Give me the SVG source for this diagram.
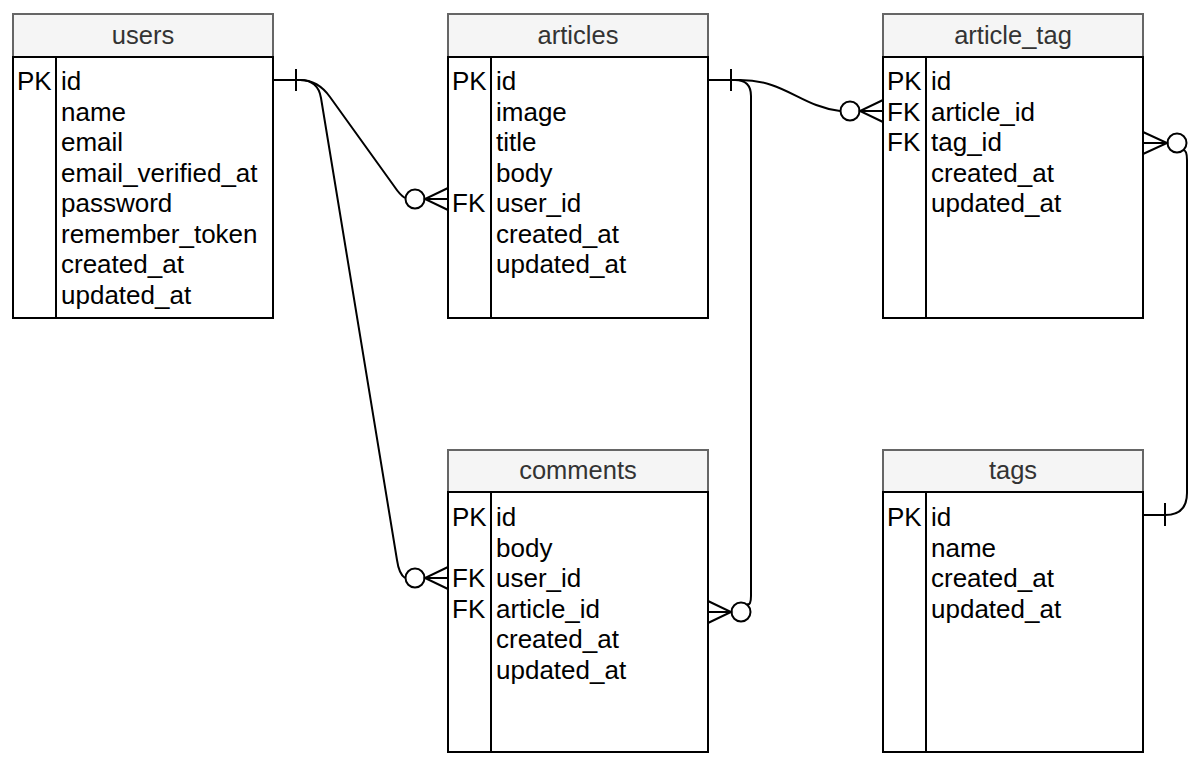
<svg xmlns="http://www.w3.org/2000/svg" width="1202" height="766" viewBox="0 0 1202 766">
  <style>
    .hdr { fill: #f5f5f5; stroke: #666666; stroke-width: 2; }
    .body { fill: #ffffff; stroke: #000000; stroke-width: 2; }
    .div { stroke: #000000; stroke-width: 2; }
    .title { font-family: "Liberation Sans", Arial, sans-serif; font-size: 25.5px; fill: #333333; text-anchor: middle; }
    .fld { font-family: "Liberation Sans", Arial, sans-serif; font-size: 26px; fill: #000000; }
    .edge { fill: none; stroke: #000000; stroke-width: 2; }
    .ring { fill: #ffffff; stroke: #000000; stroke-width: 2; }
  </style>

  <!-- relationships -->
  <g id="connectors">
    <!-- users.id -> articles.user_id (one to zero-or-many) -->
    <path class="edge" d="M273,80 L300,80 Q318,80 330,97 L394,186 Q400,195 405,198"/>
    <line class="edge" x1="296" y1="69" x2="296" y2="91"/>
    <circle class="ring" cx="415" cy="199" r="9.5"/>
    <path class="edge" d="M448,188 L425,199 L448,210 M425,199 L448,199"/>

    <!-- users.id -> comments.user_id -->
    <path class="edge" d="M300,80 Q318,80 321,98 L397,560 Q399,574 405,578"/>
    <circle class="ring" cx="415" cy="578" r="9.5"/>
    <path class="edge" d="M448,567 L425,578 L448,589 M425,578 L448,578"/>

    <!-- articles.id -> article_tag.article_id -->
    <path class="edge" d="M708,80 L740,80 C785,80 800,106 840,111"/>
    <line class="edge" x1="731" y1="69" x2="731" y2="91"/>
    <circle class="ring" cx="850" cy="111" r="9.5"/>
    <path class="edge" d="M883,100 L860,111 L883,122 M860,111 L883,111"/>

    <!-- articles.id -> comments.article_id -->
    <path class="edge" d="M735,80 Q751,80 751,96 L751,596 Q751,606 747,604"/>
    <circle class="ring" cx="741" cy="612" r="9.5"/>
    <path class="edge" d="M708,601 L731,612 L708,623 M731,612 L708,612"/>

    <!-- tags.id -> article_tag.tag_id -->
    <path class="edge" d="M1143,515 L1165,515 Q1187,515 1187,493 L1187,160 Q1187,150 1183,150"/>
    <line class="edge" x1="1165" y1="503" x2="1165" y2="526"/>
    <circle class="ring" cx="1177" cy="143" r="9.5"/>
    <path class="edge" d="M1143,132 L1167,143 L1143,154 M1167,143 L1143,143"/>
  </g>

  <g id="users">
    <rect class="hdr" x="13" y="14" width="260" height="43"/>
    <rect class="body" x="13" y="57" width="260" height="261"/>
    <line class="div" x1="56" y1="57" x2="56" y2="318"/>
    <text class="title" x="143" y="44">users</text>
    <text class="fld" x="17" y="90">PK</text>
    <text class="fld" x="61" y="90">id</text>
    <text class="fld" x="61" y="121">name</text>
    <text class="fld" x="61" y="151">email</text>
    <text class="fld" x="61" y="182">email_verified_at</text>
    <text class="fld" x="61" y="212">password</text>
    <text class="fld" x="61" y="243">remember_token</text>
    <text class="fld" x="61" y="273">created_at</text>
    <text class="fld" x="61" y="304">updated_at</text>
  </g>

  <g id="articles">
    <rect class="hdr" x="448" y="14" width="260" height="43"/>
    <rect class="body" x="448" y="57" width="260" height="261"/>
    <line class="div" x1="491" y1="57" x2="491" y2="318"/>
    <text class="title" x="578" y="44">articles</text>
    <text class="fld" x="452" y="90">PK</text>
    <text class="fld" x="496" y="90">id</text>
    <text class="fld" x="496" y="121">image</text>
    <text class="fld" x="496" y="151">title</text>
    <text class="fld" x="496" y="182">body</text>
    <text class="fld" x="452" y="212">FK</text>
    <text class="fld" x="496" y="212">user_id</text>
    <text class="fld" x="496" y="243">created_at</text>
    <text class="fld" x="496" y="273">updated_at</text>
  </g>

  <g id="article_tag">
    <rect class="hdr" x="883" y="14" width="260" height="43"/>
    <rect class="body" x="883" y="57" width="260" height="261"/>
    <line class="div" x1="926" y1="57" x2="926" y2="318"/>
    <text class="title" x="1013" y="44">article_tag</text>
    <text class="fld" x="887" y="90">PK</text>
    <text class="fld" x="931" y="90">id</text>
    <text class="fld" x="887" y="121">FK</text>
    <text class="fld" x="931" y="121">article_id</text>
    <text class="fld" x="887" y="151">FK</text>
    <text class="fld" x="931" y="151">tag_id</text>
    <text class="fld" x="931" y="182">created_at</text>
    <text class="fld" x="931" y="212">updated_at</text>
  </g>

  <g id="comments">
    <rect class="hdr" x="448" y="450" width="260" height="42"/>
    <rect class="body" x="448" y="492" width="260" height="260"/>
    <line class="div" x1="491" y1="492" x2="491" y2="752"/>
    <text class="title" x="578" y="479">comments</text>
    <text class="fld" x="452" y="526">PK</text>
    <text class="fld" x="496" y="526">id</text>
    <text class="fld" x="496" y="557">body</text>
    <text class="fld" x="452" y="587">FK</text>
    <text class="fld" x="496" y="587">user_id</text>
    <text class="fld" x="452" y="618">FK</text>
    <text class="fld" x="496" y="618">article_id</text>
    <text class="fld" x="496" y="648">created_at</text>
    <text class="fld" x="496" y="679">updated_at</text>
  </g>

  <g id="tags">
    <rect class="hdr" x="883" y="450" width="260" height="42"/>
    <rect class="body" x="883" y="492" width="260" height="260"/>
    <line class="div" x1="926" y1="492" x2="926" y2="752"/>
    <text class="title" x="1013" y="479">tags</text>
    <text class="fld" x="887" y="526">PK</text>
    <text class="fld" x="931" y="526">id</text>
    <text class="fld" x="931" y="557">name</text>
    <text class="fld" x="931" y="587">created_at</text>
    <text class="fld" x="931" y="618">updated_at</text>
  </g>
</svg>
